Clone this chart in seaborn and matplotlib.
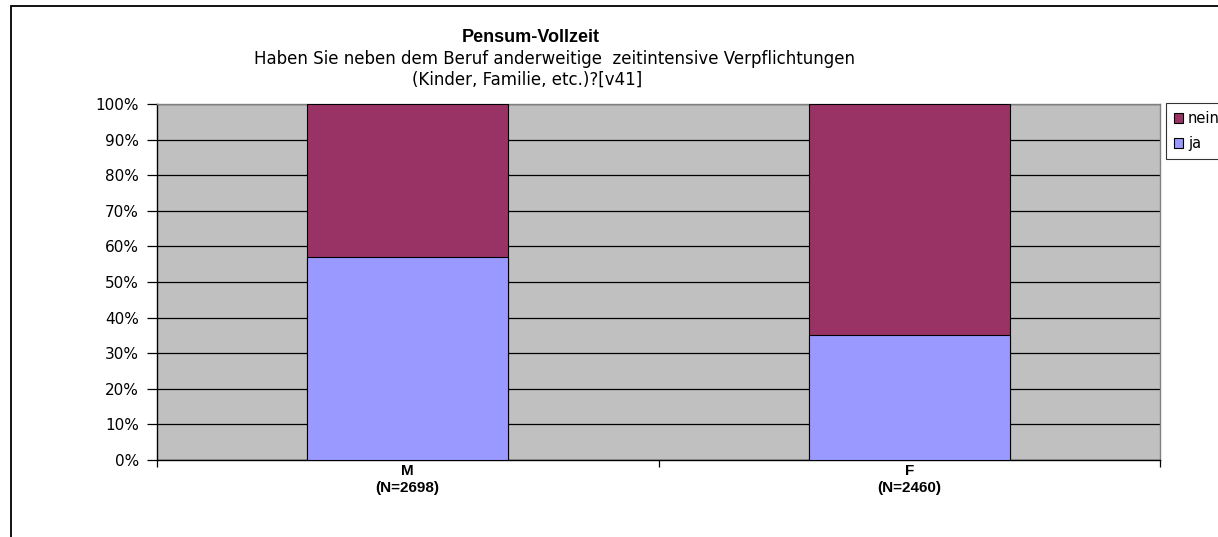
import pandas as pd
import matplotlib
matplotlib.use("Agg")
import matplotlib.pyplot as plt
import seaborn as sns
from matplotlib.patches import Rectangle
from matplotlib.ticker import FixedLocator, PercentFormatter

groups = ['M', 'F']
group_n = [2698, 2460]
ja = [57.1, 35.2]
nein = [42.9, 64.8]

sns.set_style("white")
plt.rcParams['font.family'] = ['DejaVu Sans']
plt.rcParams['text.color'] = 'black'
plt.rcParams['xtick.color'] = 'black'
plt.rcParams['ytick.color'] = 'black'

df = pd.DataFrame({'group': groups, 'ja': ja, 'nein': nein})
df['total'] = df['ja'] + df['nein']

fig = plt.figure(figsize=(12.18, 5.37), dpi=100)
ax = fig.add_axes([157 / 1218, 1 - 460 / 537, (1160 - 157) / 1218, (460 - 104) / 537])
ax.set_facecolor('#C0C0C0')

sns.barplot(data=df, x='group', y='total', color='#993366', width=0.4,
            edgecolor='black', linewidth=0.8, saturation=1, ax=ax, label='nein', zorder=3)
sns.barplot(data=df, x='group', y='ja', color='#9999FF', width=0.4,
            edgecolor='black', linewidth=0.8, saturation=1, ax=ax, label='ja', zorder=3)

ax.set_xlim(-0.5, 1.5)
ax.set_ylim(0, 100)
ax.set_yticks(range(0, 101, 10))
ax.yaxis.set_major_formatter(PercentFormatter(decimals=0))
ax.yaxis.grid(True, color='black', linewidth=0.9)
ax.set_axisbelow(True)
ax.set_xlabel('')
ax.set_ylabel('')

ax.set_xticks(range(len(groups)))
ax.set_xticklabels([f'{g}\n(N={n})' for g, n in zip(groups, group_n)],
                   fontsize=11, fontweight='bold', linespacing=1.3,
                   family='Liberation Sans')
ax.xaxis.set_minor_locator(FixedLocator([-0.5, 0.5, 1.5]))
ax.tick_params(axis='x', which='major', length=0, pad=3)
ax.tick_params(axis='x', which='minor', length=5, width=0.9, color='black', direction='out')
ax.tick_params(axis='y', length=7, width=0.9, color='black', direction='out', labelsize=11, pad=6)
ax.tick_params(bottom=True, left=True, which='both')

for side in ['left', 'bottom']:
    ax.spines[side].set_color('black')
    ax.spines[side].set_linewidth(1.0)
for side in ['top', 'right']:
    ax.spines[side].set_color('#808080')
    ax.spines[side].set_linewidth(1.0)

handles, labels = ax.get_legend_handles_labels()
leg = fig.legend(handles, labels, loc='upper left',
                 bbox_to_anchor=(1166 / 1218, 1 - 103 / 537),
                 frameon=True, fancybox=False, edgecolor='black', fontsize=10.5,
                 handlelength=0.6, handleheight=0.6, handletextpad=0.35,
                 borderpad=0.55, labelspacing=0.7, borderaxespad=0)
leg.get_frame().set_linewidth(0.8)
if ax.get_legend():
    ax.get_legend().remove()

fig.text(531 / 1218, 1 - 38 / 537, 'Pensum-Vollzeit', ha='center', va='center',
         fontsize=13, fontweight='bold', family='Liberation Sans')
fig.text(555 / 1218, 1 - 59 / 537,
         'Haben Sie neben dem Beruf anderweitige  zeitintensive Verpflichtungen',
         ha='center', va='center', fontsize=12)
fig.text(527 / 1218, 1 - 80 / 537, '(Kinder, Familie, etc.)?[v41]',
         ha='center', va='center', fontsize=12)

fig.add_artist(Rectangle((11 / 1218, -0.2), 1.2, 1.2 - 6 / 537,
                         transform=fig.transFigure, fill=False,
                         edgecolor='black', linewidth=1.3))

fig.savefig('out.png', dpi=100)
